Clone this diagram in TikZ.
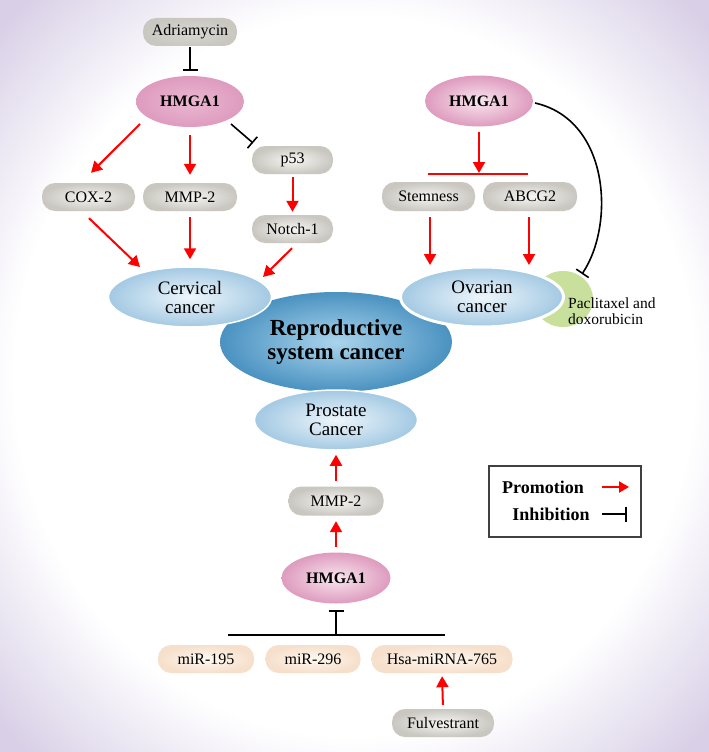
\documentclass[tikz,border=0pt]{standalone}
\usepackage{fontspec}
\setmainfont{Liberation Serif}
\usetikzlibrary{shapes.geometric,arrows.meta,calc}
\definecolor{lav}{HTML}{D9D0E7}
\definecolor{gin}{HTML}{F7F6F3}
\definecolor{gout}{HTML}{C9C7C0}
\definecolor{pin}{HTML}{F8E6EF}
\definecolor{pout}{HTML}{DE9BBE}
\definecolor{pinb}{HTML}{EAB8D1}
\definecolor{fin}{HTML}{FFF9F2}
\definecolor{fout}{HTML}{F6DFCB}
\definecolor{bin}{HTML}{EEF6FB}
\definecolor{bout}{HTML}{A3C9E3}
\definecolor{din}{HTML}{AAD4EC}
\definecolor{dout}{HTML}{4A92C1}
\definecolor{grn}{HTML}{C9E09D}
\definecolor{legd}{HTML}{404040}
\pgfdeclareradialshading{bgshade}{\pgfpoint{0bp}{0bp}}{color(0bp)=(white);color(24bp)=(white);color(34bp)=(lav);color(50bp)=(lav)}
\newcommand\fsz[1]{\fontsize{#1}{#1}\selectfont}
\begin{document}
\begin{tikzpicture}[x=1pt,y=-1pt,
  gbox/.style={rounded corners=13pt, minimum height=28pt, inner sep=0pt, inner color=gin, outer color=gout, font=\fsz{16}},
  fbox/.style={rounded corners=13pt, minimum height=28pt, inner sep=0pt, inner color=fin, outer color=fout, font=\fsz{16}},
  hmga/.style={ellipse, minimum width=108pt, minimum height=51pt, inner sep=0pt, inner color=pin, outer color=pout, font=\fsz{16}\bfseries},
  canc/.style={ellipse, minimum width=163pt, minimum height=60pt, inner sep=0pt, inner color=bin, outer color=bout, draw=white, line width=1.5pt, font=\fsz{19}, align=center},
  prom/.style={draw=red, line width=2pt, -{Triangle[length=11pt,width=12pt]}},
  inh/.style={draw=black, line width=1.6pt, -{Bar[width=15pt,line width=1.6pt]}},
  plain/.style={draw=black, line width=2pt}
]
\shade[shading=bgshade] (0,0) rectangle (709,752);
\useasboundingbox (0,0) rectangle (709,752);

% central
\node[ellipse, minimum width=232pt, minimum height=100pt, inner sep=0pt, inner color=din, outer color=dout, font=\fsz{23}\bfseries, align=center] (rep) at (336,342) {Reproductive\\[1pt]system cancer};
\node[canc] (cerv) at (190,297) {Cervical\\cancer};
\node[ellipse, minimum width=60pt, minimum height=56pt, inner sep=0pt, fill=grn] (pac) at (563,299) {};
\node[canc, line width=3pt] (ova) at (482,297) {Ovarian\\cancer};
\node[canc] (prost) at (336,420) {Prostate\\Cancer};
\node[anchor=west, align=left, font=\fsz{15.5}, inner sep=0pt] (pactxt) at (568,311.5) {Paclitaxel and\\[0.5pt]doxorubicin};

% top left
\node[gbox, minimum width=94pt, inner color=gout!70!white] (adr) at (190,32) {Adriamycin};
\node[hmga, inner color=pinb] (hl) at (190,101.5) {HMGA1};
\node[gbox, minimum width=93pt] (cox) at (88.5,197) {COX-2};
\node[gbox, minimum width=94pt] (mmpa) at (190,197) {MMP-2};
\node[gbox, minimum width=81pt] (p53) at (292.5,160) {p53};
\node[gbox, minimum width=81pt] (notch) at (292.5,229) {Notch-1};

\draw[inh, shorten <=1pt, shorten >=5pt] (adr.south) -- (hl.north);
\draw[prom] ($(hl)+(-50,22.5)$) -- ($(cox.north)+(2.5,-10)$);
\draw[prom, shorten <=8pt, shorten >=8pt] (hl.south) -- (mmpa.north);
\draw[inh] ($(hl)+(41,22.5)$) -- ($(p53)+(-39.5,-17)$);
\draw[prom, shorten <=3pt, shorten >=3pt] (p53.south) -- (notch.north);
\draw[prom] ($(cox.south)+(0.5,7)$) -- ($(cerv)+(-50,-30)$);
\draw[prom, shorten <=6pt, shorten >=7pt] (mmpa.south) -- (cerv.north);
\draw[prom] ($(notch.south)+(-0.5,5)$) -- ($(cerv)+(73,-20)$);

% top right
\node[hmga] (hr) at (479,101) {HMGA1};
\node[gbox, minimum width=93pt, minimum height=29pt] (stem) at (428.5,196.5) {Stemness};
\node[gbox, minimum width=94pt, minimum height=29pt] (abcg) at (530,196.5) {ABCG2};
\coordinate (barL) at (428,174);
\coordinate (barR) at (528,174);
\coordinate (barM) at (479,174);
\draw[draw=red, line width=2pt] (barL) -- (barR);
\draw[prom, shorten <=5pt, shorten >=1pt] (hr.south) -- (barM);
\draw[prom] ($(stem.south)+(1.5,6)$) -- ($(ova)+(-52,-32)$);
\draw[prom] ($(abcg.south)+(-1,6)$) -- ($(ova)+(47,-32)$);
\draw[inh] ($(hr)+(56,2)$) .. controls (610,120) and (615,225) .. ($(pac)+(19,-25)$);

% bottom
\node[gbox, minimum width=95pt, minimum height=29pt] (mmpb) at (336,501) {MMP-2};
\node[hmga, minimum width=109pt] (hb) at (336,578) {HMGA1};
\node[fbox, minimum width=96pt] (m195) at (206,659) {miR-195};
\node[fbox, minimum width=95pt] (m296) at (313,659) {miR-296};
\node[fbox, minimum width=141pt] (hsa) at (442,659) {Hsa-miRNA-765};
\node[gbox, minimum width=102pt] (fulv) at (443,723) {Fulvestrant};
\coordinate (jL) at (228,635);
\coordinate (jR) at (445,635);
\coordinate (jM) at (336,635);
\draw[plain] (jL) -- (jR);
\draw[inh, shorten >=6.5pt] (jM) -- (hb.south);
\draw[prom, shorten <=5.5pt, shorten >=5.5pt] (hb.north) -- (mmpb.south);
\draw[prom, shorten <=5pt, shorten >=4pt] (mmpb.north) -- (prost.south);
\draw[prom, shorten <=4pt, shorten >=3pt] (fulv.north) -- (hsa.south);

% legend
\node[draw=legd, line width=1.2pt, minimum width=152pt, minimum height=71pt, inner sep=0pt] (leg) at (565,501.5) {};
\node[font=\fsz{18}\bfseries, inner sep=0pt] (ltp) at (543,487) {Promotion};
\node[font=\fsz{18}\bfseries, inner sep=0pt] (lti) at (551,514) {Inhibition};
\coordinate (lp1) at (602,487);
\coordinate (lp2) at (629,487);
\coordinate (li1) at (602,514);
\coordinate (li2) at (627,514);
\draw[prom, -{Triangle[length=10pt,width=11pt]}] (lp1) -- (lp2);
\draw[inh] (li1) -- (li2);
\end{tikzpicture}
\end{document}
